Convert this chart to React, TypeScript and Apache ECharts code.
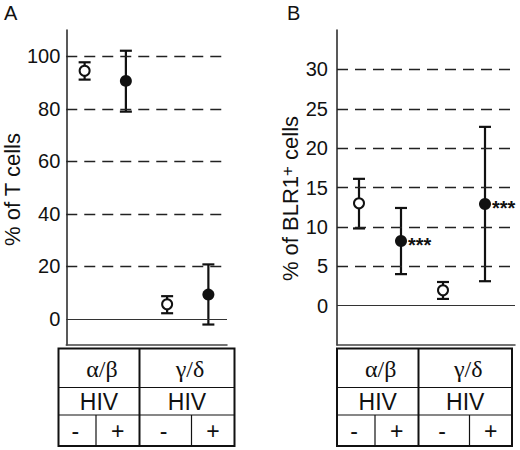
import { useEffect, useRef } from "react";
import * as echarts from "echarts";

// groups along the x axis
const categories = ["α/β HIV-", "α/β HIV+", "γ/δ HIV-", "γ/δ HIV+"];
const hivStatus = ["-", "+", "-", "+"];
const cellGroups = ["α/β", "γ/δ"];

// panel A: % of T cells
const meanA = [94.5, 90.6, 5.5, 9.2];
const lowA = [91.1, 78.9, 2.1, -2.2];
const highA = [97.7, 102.1, 8.6, 20.7];
const ticksA = [0, 20, 40, 60, 80, 100];
const dashedA = [20, 40, 60, 80, 100];

// panel B: % of BLR1+ cells
const meanB = [13.0, 8.2, 1.95, 12.9];
const lowB = [9.8, 4.0, 0.85, 3.1];
const highB = [16.1, 12.4, 3.0, 22.7];
const starsB = ["", "***", "", "***"];
const ticksB = [0, 5, 10, 15, 20, 25, 30];
const dashedB = [5, 10, 15, 20, 25, 30];

const FONT = "Liberation Sans";
const SERIF = "Liberation Serif";

// frame grid (axes, gridlines) and an inner grid where the groups sit
const panels = [
    { left: 59, width: 168, markLeft: 64, markWidth: 165, tLeft: 58.5, tRight: 234.5, tMid: 139.5, subs: [96, 191.5] },
    { left: 337, width: 178, markLeft: 338, markWidth: 168, tLeft: 337, tRight: 512, tMid: 418.5, subs: [375, 469.5] }
];
const rows = [348.5, 387.5, 415, 446];

function tableGraphic(p: typeof panels[number]) {
    const els: any[] = [];
    const line = (x1: number, y1: number, x2: number, y2: number, w: number) =>
        els.push({
            type: "line",
            shape: { x1, y1, x2, y2 },
            style: { stroke: "#111", lineWidth: w }
        });
    const text = (t: string, cx: number, cy: number, family: string, size: number) =>
        els.push({
            type: "text",
            x: cx,
            y: cy,
            style: {
                text: t,
                fill: "#111",
                fontSize: size,
                fontFamily: family,
                align: "center",
                verticalAlign: "middle"
            }
        });

    els.push({
        type: "rect",
        shape: { x: p.tLeft, y: rows[0], width: p.tRight - p.tLeft, height: rows[3] - rows[0] },
        style: { fill: "none", stroke: "#111", lineWidth: 2 }
    });
    line(p.tLeft, rows[1], p.tRight, rows[1], 1.2);
    line(p.tLeft, rows[2], p.tRight, rows[2], 1.2);
    line(p.tMid, rows[0], p.tMid, rows[3], 2);
    line(p.subs[0], rows[2], p.subs[0], rows[3], 1.2);
    line(p.subs[1], rows[2], p.subs[1], rows[3], 1.2);

    const halves = [
        [p.tLeft, p.tMid],
        [p.tMid, p.tRight]
    ];
    halves.forEach(([a, b], g) => {
        text(cellGroups[g], (a + b) / 2 + 3, (rows[0] + rows[1]) / 2 + 1, SERIF, 24);
        text("HIV", (a + b) / 2, (rows[1] + rows[2]) / 2 + 1, FONT, 23);
        const sub = p.subs[g];
        text(hivStatus[g * 2], (a + sub) / 2 - 2, (rows[2] + rows[3]) / 2, FONT, 23);
        text(hivStatus[g * 2 + 1], (sub + b) / 2, (rows[2] + rows[3]) / 2, FONT, 23);
    });
    return els;
}

function App() {
    const chartRef = useRef<HTMLDivElement>(null);

    useEffect(() => {
        if (!chartRef.current) return;

        const chart = echarts.init(chartRef.current, null, { renderer: "svg" });

        // empty series in the frame grid that carries the gridlines
        const gridLines = (idx: number, dashed: number[]) => ({
            type: "line",
            xAxisIndex: idx,
            yAxisIndex: idx,
            data: [],
            markLine: {
                silent: true,
                symbol: "none",
                label: { show: false },
                animation: false,
                data: [
                    ...dashed.map((v) => ({
                        yAxis: v,
                        lineStyle: { type: [11, 7], color: "#222", width: 1.3 }
                    })),
                    { yAxis: 0, lineStyle: { type: "solid", color: "#333", width: 1.2 } }
                ]
            }
        });

        const errorSeries = (idx: number, low: number[], high: number[]) => ({
            type: "custom",
            xAxisIndex: idx,
            yAxisIndex: idx,
            data: low.map((l, i) => [i, l, high[i]]),
            z: 2,
            renderItem: (_params: any, api: any) => {
                const lo = api.coord([api.value(0), api.value(1)]);
                const hi = api.coord([api.value(0), api.value(2)]);
                const st = { stroke: "#111", lineWidth: 2.2 };
                return {
                    type: "group",
                    children: [
                        { type: "line", shape: { x1: lo[0], y1: lo[1], x2: hi[0], y2: hi[1] }, style: st },
                        { type: "line", shape: { x1: lo[0] - 6, y1: lo[1], x2: lo[0] + 6, y2: lo[1] }, style: st },
                        { type: "line", shape: { x1: hi[0] - 6, y1: hi[1], x2: hi[0] + 6, y2: hi[1] }, style: st }
                    ]
                };
            }
        });

        const markerSeries = (idx: number, mean: number[], status: string, labels?: string[]) => ({
            type: "scatter",
            xAxisIndex: idx,
            yAxisIndex: idx,
            z: 3,
            symbol: "circle",
            symbolSize: status === "-" ? 10 : 12,
            itemStyle:
                status === "-"
                    ? { color: "#fff", borderColor: "#111", borderWidth: 2, opacity: 1 }
                    : { color: "#111", borderColor: "#111", borderWidth: 0, opacity: 1 },
            data: mean
                .map((v, i) => ({
                    value: [i, v],
                    label: {
                        show: !!(labels && labels[i]),
                        formatter: labels ? labels[i] : "",
                        position: "right",
                        distance: 1,
                        offset: [0, 4],
                        color: "#111",
                        fontSize: 20,
                        fontWeight: "bold",
                        fontFamily: FONT
                    }
                }))
                .filter((_, i) => hivStatus[i] === status)
        });

        const yAxis = (
            idx: number,
            min: number,
            max: number,
            ticks: number[],
            name: string,
            gap: number,
            margin: number,
            shift: number
        ) => ({
            type: "value",
            gridIndex: idx,
            min,
            max,
            name,
            nameLocation: "middle",
            nameRotate: 90,
            nameGap: gap,
            nameTextStyle: {
                fontSize: 22,
                color: "#111",
                fontFamily: FONT,
                padding: [0, shift, 0, 0],
                rich: {
                    sup: { fontSize: 17, verticalAlign: "top", color: "#111", fontFamily: FONT, padding: [0, 0, 6, 0] }
                }
            },
            axisLine: { show: true, onZero: false, lineStyle: { color: "#222", width: 1.5 } },
            axisTick: { show: false },
            splitLine: { show: false },
            axisLabel: {
                customValues: ticks,
                fontSize: 20,
                color: "#111",
                fontFamily: FONT,
                margin
            }
        });

        const hiddenY = (idx: number, min: number, max: number) => ({
            type: "value",
            gridIndex: idx,
            min,
            max,
            show: false
        });

        const xAxis = (idx: number, visible: boolean) => ({
            type: "category",
            gridIndex: idx,
            data: categories,
            show: visible,
            axisLine: { show: true, onZero: false, lineStyle: { color: "#444", width: 1.5 } },
            axisTick: { show: false },
            axisLabel: { show: false },
            splitLine: { show: false }
        });

        chart.setOption({
            animation: false,
            backgroundColor: "#fff",
            grid: [
                ...panels.map((p) => ({ left: p.left, width: p.width, top: 30, height: 315 })),
                ...panels.map((p) => ({ left: p.markLeft, width: p.markWidth, top: 30, height: 315 }))
            ],
            xAxis: [xAxis(0, true), xAxis(1, true), xAxis(2, false), xAxis(3, false)],
            yAxis: [
                yAxis(0, -10, 110, ticksA, "% of T cells", 38, 6, 4),
                yAxis(1, -5, 35, ticksB, "% of BLR1{sup|+} cells", 35, 9, 22),
                hiddenY(2, -10, 110),
                hiddenY(3, -5, 35)
            ],
            series: [
                gridLines(0, dashedA),
                gridLines(1, dashedB),
                errorSeries(2, lowA, highA),
                markerSeries(2, meanA, "-"),
                markerSeries(2, meanA, "+"),
                errorSeries(3, lowB, highB),
                markerSeries(3, meanB, "-"),
                markerSeries(3, meanB, "+", starsB)
            ],
            graphic: [
                {
                    type: "text",
                    left: 4,
                    top: 3,
                    style: { text: "A", fontSize: 20, fontFamily: FONT, fill: "#111" }
                },
                {
                    type: "text",
                    left: 287,
                    top: 3,
                    style: { text: "B", fontSize: 20, fontFamily: FONT, fill: "#111" }
                },
                ...tableGraphic(panels[0]),
                ...tableGraphic(panels[1])
            ]
        });

        return () => {
            chart.dispose();
        };
    }, []);

    return (
        <div
            ref={chartRef}
            style={{
                position: "fixed",
                left: 0,
                top: 0,
                width: "520px",
                height: "450px",
                background: "#fff"
            }}
        />
    );
}

export default App;
